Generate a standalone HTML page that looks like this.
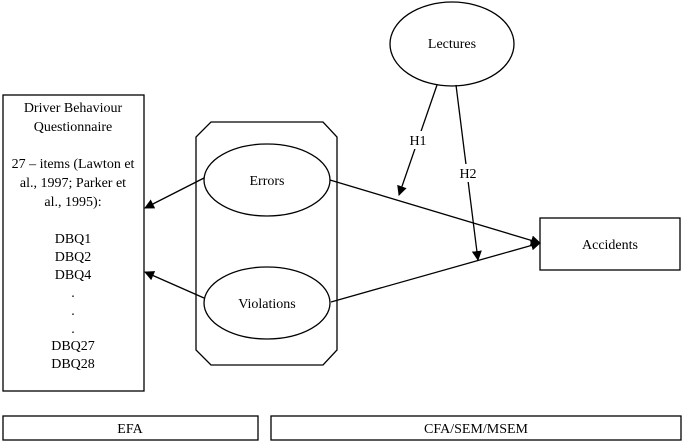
<html><body style="margin:0;background:#fff">
<svg width="685" height="448" xmlns="http://www.w3.org/2000/svg" font-family="Liberation Serif, serif" font-size="14" text-anchor="middle">
<defs><marker id="a" markerWidth="10" markerHeight="10" refX="9" refY="5" orient="auto" markerUnits="userSpaceOnUse"><path d="M0,0 L10,5 L0,10z" fill="#000"/></marker></defs>
<g fill="#fff" stroke="#000" stroke-width="1.3">
<rect x="3" y="95" width="141" height="296"/>
<rect x="3" y="416" width="255" height="24"/>
<rect x="271" y="416" width="410" height="24"/>
<rect x="540" y="218" width="140" height="52"/>
<path d="M211,122 L323,122 L337,137 L337,350 L323,365 L211,365 L196,350 L196,137Z"/>
<ellipse cx="267" cy="180" rx="63" ry="36"/>
<ellipse cx="267" cy="303" rx="63" ry="36"/>
<ellipse cx="452" cy="44" rx="62" ry="42"/>
</g>
<g stroke="#000" stroke-width="1.3" fill="none" marker-end="url(#a)">
<path d="M330,180 L540,243"/>
<path d="M331,302 L540,243"/>
<path d="M204,178 L145,208"/>
<path d="M204,298 L145,272"/>
<path d="M437,85 L399,195"/>
<path d="M456,85 L478,260"/>
</g>
<rect x="407" y="131" width="22" height="18" fill="#fff"/>
<rect x="457" y="164" width="22" height="18" fill="#fff"/>
<g>
<text x="73" y="112">Driver Behaviour</text>
<text x="73" y="131">Questionnaire</text>
<text x="73" y="168">27 – items (Lawton et</text>
<text x="73" y="187">al., 1997; Parker et</text>
<text x="73" y="206">al., 1995):</text>
<text x="73" y="243">DBQ1</text>
<text x="73" y="261">DBQ2</text>
<text x="73" y="279">DBQ4</text>
<text x="73" y="297">.</text>
<text x="73" y="315">.</text>
<text x="73" y="333">.</text>
<text x="73" y="350">DBQ27</text>
<text x="73" y="368">DBQ28</text>
<text x="130" y="433">EFA</text>
<text x="476" y="433">CFA/SEM/MSEM</text>
<text x="610" y="249">Accidents</text>
<text x="267" y="185">Errors</text>
<text x="267" y="308">Violations</text>
<text x="452" y="48">Lectures</text>
<text x="418" y="145">H1</text>
<text x="468" y="178">H2</text>
</g>
</svg>
</body></html>
